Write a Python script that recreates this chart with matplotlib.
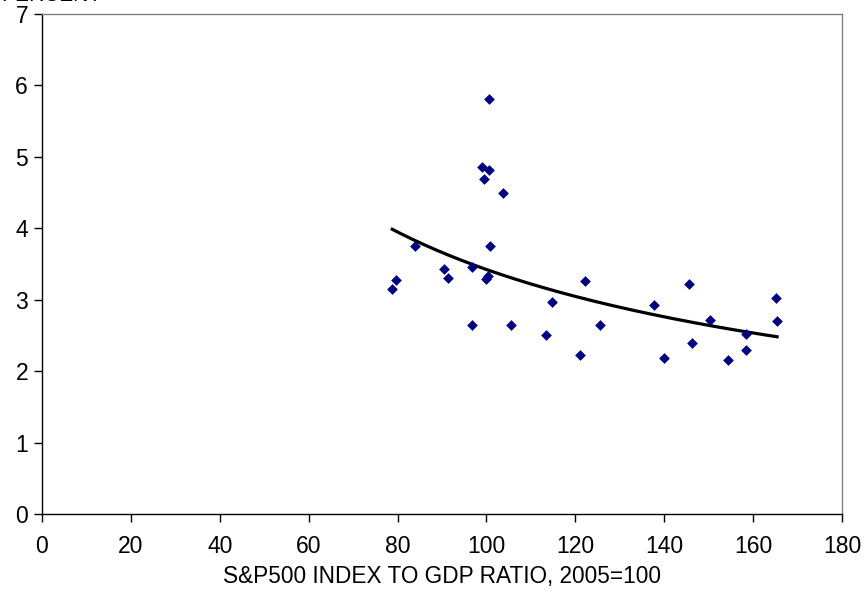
import numpy as np
import matplotlib.pyplot as plt

plt.rcParams['font.family'] = ['Liberation Sans', 'DejaVu Sans']

# S&P500 index to GDP ratio (2005=100) vs percent
ratio = [78.8, 79.7, 83.9, 90.5, 91.4, 96.7, 96.7, 99.0, 99.5, 100.6,
         100.65, 100.0, 100.4, 100.8, 103.7, 105.6, 113.4, 114.75, 121.0, 122.1,
         125.6, 137.8, 140.0, 145.6, 146.3, 150.4, 154.3, 158.4, 158.5, 165.2,
         165.4]
percent = [3.15, 3.27, 3.75, 3.43, 3.31, 3.46, 2.64, 4.86, 4.69, 4.82,
           5.81, 3.29, 3.33, 3.75, 4.50, 2.64, 2.50, 2.97, 2.22, 3.26,
           2.64, 2.92, 2.19, 3.22, 2.40, 2.71, 2.15, 2.52, 2.30, 3.02,
           2.70]

x_ticks = list(range(0, 181, 20))
y_ticks = list(range(0, 8))

fig = plt.figure(figsize=(8.68, 5.91), dpi=100)
ax = fig.add_axes([42 / 868, 77 / 591, 800 / 868, 500 / 591])

ax.scatter(ratio, percent, marker='D', s=30, color='#000080', zorder=3, linewidths=0)

# power trendline (fit of log y on log x)
b, loga = np.polyfit(np.log(ratio), np.log(percent), 1)
xs = np.linspace(min(ratio), max(ratio), 200)
ax.plot(xs, np.exp(loga) * xs ** b, color='black', lw=2.3, zorder=2)

ax.set_xlim(0, 180)
ax.set_ylim(0, 7)
ax.set_xticks(x_ticks)
ax.set_yticks(y_ticks)
ax.tick_params(direction='out', length=6, width=1, labelsize=16.5, pad=9)
ax.tick_params(axis='y', pad=4)
for s in ax.spines.values():
    s.set_linewidth(1)
ax.spines['right'].set_color('#808080')
ax.spines['top'].set_color('#808080')

ax.set_xlabel('S&P500 INDEX TO GDP RATIO, 2005=100', fontsize=16.3, labelpad=5)

# label sits above the top edge, only its lowest pixels show
fig.text(0.002, 1 - 1.2 / 591, 'PERCENT', fontsize=15, va='baseline', ha='left')

fig.savefig('out.png', dpi=100)
